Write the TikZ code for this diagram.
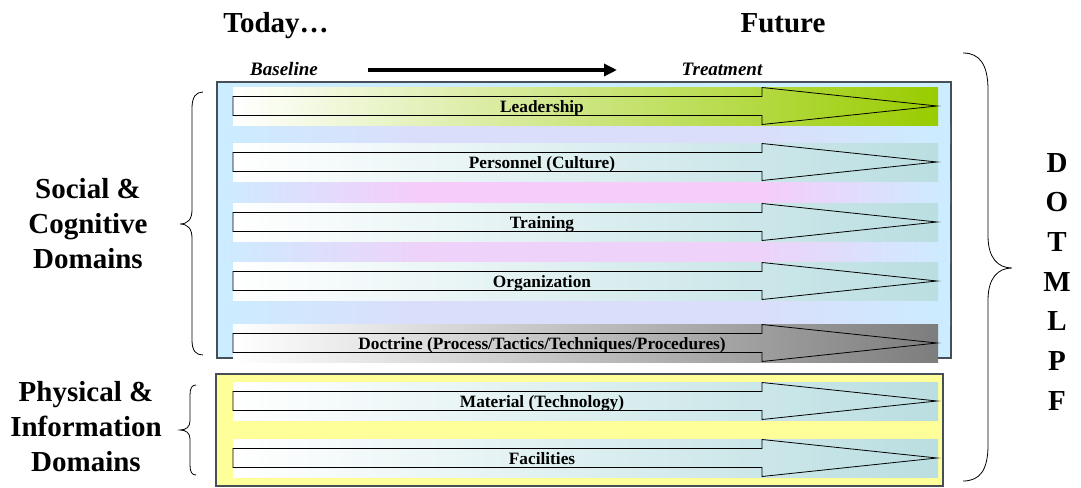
\documentclass[tikz,border=0pt]{standalone}
\usepackage{fontspec}
\setmainfont{Liberation Serif}
\usetikzlibrary{arrows.meta, positioning}

\definecolor{panelblue}{RGB}{204,236,255}
\definecolor{panelyellow}{RGB}{255,255,153}
\definecolor{lavender}{RGB}{218,222,250}
\definecolor{softpink}{RGB}{246,204,250}
\definecolor{paleviolet}{RGB}{238,210,250}
\definecolor{leadgreen}{RGB}{153,204,0}
\definecolor{paleteal}{RGB}{186,222,225}
\definecolor{doctgray}{RGB}{125,125,125}
\definecolor{frame}{RGB}{70,78,88}

\begin{document}
\begin{tikzpicture}[x=1pt, y=-1pt]
    \tikzstyle{rowlabel}=[font=\bfseries\fontsize{17.3}{20}\selectfont, inner sep=0pt, anchor=base]
    \tikzstyle{biglabel}=[font=\bfseries\fontsize{29}{35}\selectfont, align=center, inner sep=0pt]
    \tikzstyle{sublabel}=[font=\bfseries\itshape\fontsize{19}{22}\selectfont, inner sep=0pt, anchor=base]
    \tikzstyle{outline}=[draw=black, line width=0.8pt]
    \tikzstyle{braceline}=[draw=black, line width=0.8pt]
    \tikzstyle{panel}=[draw=frame, line width=1.2pt]

    \useasboundingbox (0,0) rectangle (1081,487);

    % headings
    \node[biglabel, anchor=base] (today) at (276,33) {Today…};
    \node[biglabel, anchor=base] (future) at (783,33) {Future};
    \node[sublabel] (base) at (284,75) {Baseline};
    \node[sublabel] (treat) at (722,75) {Treatment};
    \coordinate (arrowstart) at (368,70);
    \coordinate (arrowend) at (617,70);
    \draw[line width=4pt, -{Triangle[length=13pt, width=12pt]}] (arrowstart) -- (arrowend);

    % panels
    \fill[panelblue, panel] (217,82) rectangle (951,358);
    \fill[panelyellow, panel] (216,374) rectangle (943,486);

    % stripes between the rows
    \foreach \top/\bot/\mid in {125/143/lavender, 180/203/softpink,
                                240/262/paleviolet, 300/325/lavender} {
        \fill[left color=panelblue, right color=\mid] (218,\top) rectangle (420,\bot);
        \fill[\mid] (420,\top) rectangle (760,\bot);
        \fill[left color=\mid, right color=panelblue] (760,\top) rectangle (950,\bot);
    }

    % rows
    \foreach \y/\col/\txt/\nm in {106/leadgreen/Leadership/lead,
                                  162/paleteal/Personnel (Culture)/pers,
                                  222/paleteal/Training/train,
                                  281/paleteal/Organization/org,
                                  343/doctgray/{Doctrine (Process/Tactics/Techniques/Procedures)}/doct,
                                  401/paleteal/Material (Technology)/mat,
                                  458/paleteal/Facilities/fac} {
        \fill[left color=white, right color=\col] (233,\y-19) rectangle (938,\y+19);
        \draw[outline] (233,\y-9.5) -- (762,\y-9.5) -- (762,\y-18.5) -- (937,\y)
              -- (762,\y+18.5) -- (762,\y+9.5) -- (233,\y+9.5) -- cycle;
        \node[rowlabel] (\nm) at (542,\y+6.5) {\txt};
    }

    % domains on the left
    \node[biglabel] (social) at (88,224) {Social \&\\Cognitive\\Domains};
    \node[biglabel] (physical) at (86,427) {Physical \&\\Information\\Domains};
    \draw[braceline] (203,92) .. controls (196,92) and (192,97) .. (192,108) -- (192,210)
          .. controls (192,219) and (188,224) .. (180,224)
          .. controls (188,224) and (192,229) .. (192,238) -- (192,340)
          .. controls (192,351) and (196,355) .. (203,355);
    \draw[braceline] (196,385) .. controls (192,385) and (190,388) .. (190,395) -- (190,421)
          .. controls (190,427) and (186,430) .. (180,430)
          .. controls (186,430) and (190,433) .. (190,439) -- (190,465)
          .. controls (190,472) and (192,475) .. (196,475);

    % DOTMLPF
    \draw[braceline] (963,53) .. controls (980,53) and (988,65) .. (988,90) -- (988,236)
          .. controls (988,258) and (998,268) .. (1012,268)
          .. controls (998,268) and (988,278) .. (988,300) -- (988,445)
          .. controls (988,470) and (980,481) .. (963,481);
    \foreach \ltr [count=\i from 0] in {D,O,T,M,L,P,F}
        \node[biglabel, anchor=base] (dotm\i) at (1057,{172+39.7*\i}) {\ltr};
\end{tikzpicture}
\end{document}
